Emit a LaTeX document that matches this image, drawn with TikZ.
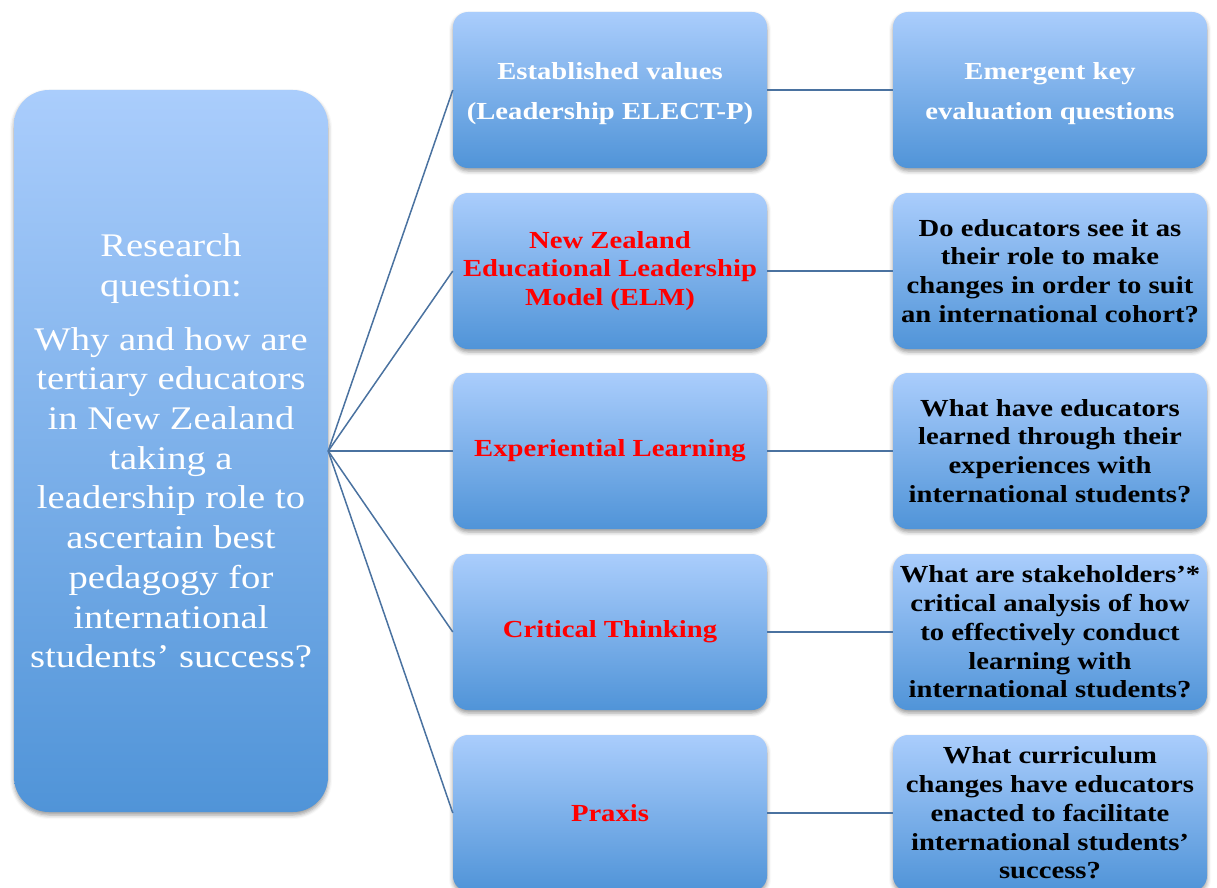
\documentclass[tikz,border=0pt]{standalone}
\usepackage{fontspec}
\setmainfont{Liberation Serif}[FakeStretch=1.17]
\usetikzlibrary{shadows.blur}
\definecolor{boxtop}{RGB}{170,205,252}
\definecolor{boxbot}{RGB}{80,148,216}
\definecolor{linkc}{RGB}{74,114,160}
\definecolor{redtxt}{RGB}{255,0,0}
\tikzset{
  basebox/.style={rectangle, top color=boxtop, bottom color=boxbot, draw=none,
    blur shadow={shadow xshift=0pt, shadow yshift=-3pt, shadow blur radius=4pt, shadow opacity=40},
    align=center, inner sep=0pt},
  smallbox/.style={basebox, minimum width=314pt, minimum height=156pt, rounded corners=15pt,
    font=\fontsize{24.5}{28.7}\selectfont\bfseries},
  boxtext/.style={align=center, inner sep=0pt, font=\fontsize{24.5}{28.7}\selectfont\bfseries},
  bigbox/.style={basebox, minimum width=314pt, minimum height=722pt, rounded corners=35pt,
    font=\fontsize{33}{39.7}\selectfont, text=white},
  whitetxt/.style={text=white},
  redt/.style={text=redtxt},
  blacktxt/.style={text=black},
  link/.style={draw=linkc, line width=1.5pt}
}
\begin{document}
\begin{tikzpicture}[x=1pt,y=-1pt]
\useasboundingbox (0,0) rectangle (1217,888);
\clip (0,0) rectangle (1217,888);
\node[bigbox] (rq) at (171,451) {Research\\question:\\[14pt]Why and how are\\tertiary educators\\in New Zealand\\taking a\\leadership role to\\ascertain best\\pedagogy for\\international\\students' success?};
\node[smallbox] (m1) at (610,90) {};
\node[boxtext, whitetxt] (m1t) at ([yshift=-3.5pt]m1.center) {Established values\\[11pt](Leadership ELECT-P)};
\node[smallbox, redt] (m2) at (610,271) {New Zealand\\Educational Leadership\\Model (ELM)};
\node[smallbox, redt] (m3) at (610,451) {Experiential Learning};
\node[smallbox, redt] (m4) at (610,632) {Critical Thinking};
\node[smallbox, redt] (m5) at (610,813) {Praxis};
\node[smallbox] (r1) at (1050,90) {};
\node[boxtext, whitetxt] (r1t) at ([yshift=-3.5pt]r1.center) {Emergent key\\[11pt]evaluation questions};
\node[smallbox, blacktxt] (r2) at (1050,271) {Do educators see it as\\their role to make\\changes in order to suit\\an international cohort?};
\node[smallbox, blacktxt] (r3) at (1050,451) {What have educators\\learned through their\\experiences with\\international students?};
\node[smallbox, blacktxt] (r4) at (1050,632) {What are stakeholders'*\\critical analysis of how\\to effectively conduct\\learning with\\international students?};
\node[smallbox, blacktxt] (r5) at (1050,813) {What curriculum\\changes have educators\\enacted to facilitate\\international students'\\success?};
\foreach \i in {1,...,5} {
  \draw[link] (rq.east) -- (m\i.west);
  \draw[link] (m\i.east) -- (r\i.west);
}
\end{tikzpicture}
\end{document}
